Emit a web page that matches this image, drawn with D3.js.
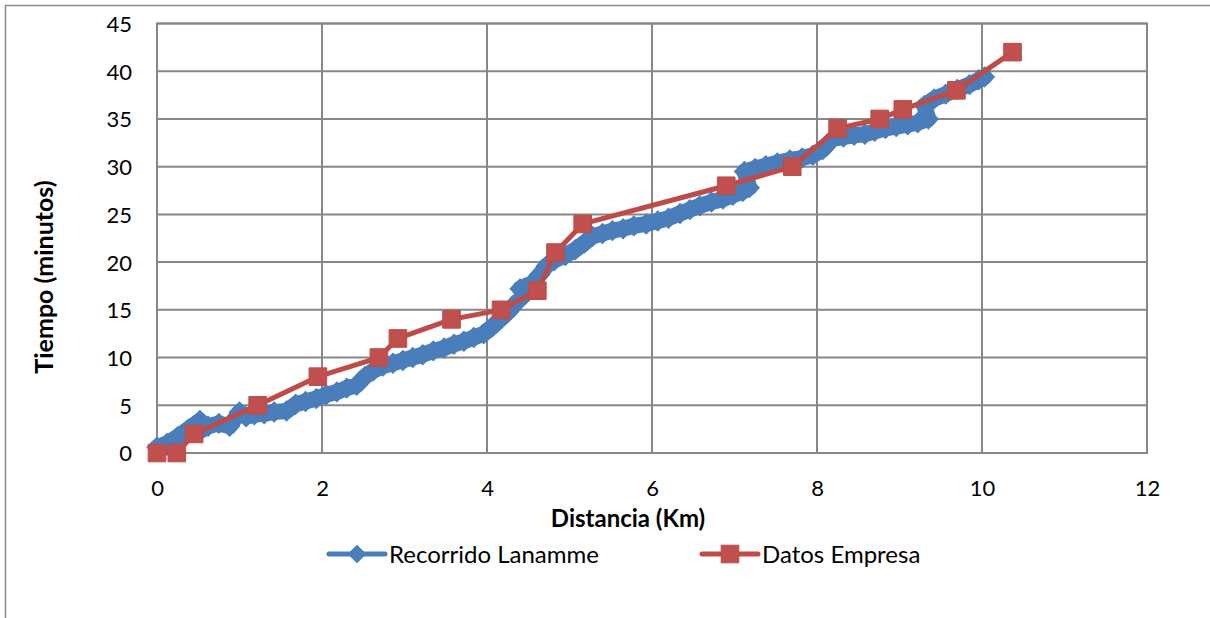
<!DOCTYPE html>
<html>
<head>
<meta charset="utf-8">
<script src="https://cdn.jsdelivr.net/npm/d3@7/dist/d3.min.js"></script>
<style>
  html, body { margin: 0; padding: 0; background: #fff; }
  svg { display: block; }
  text { font-family: Lato, "Open Sans", "Liberation Sans", sans-serif; fill: #000; }
</style>
</head>
<body>
<svg id="chart" width="1210" height="618"></svg>
<script>
// Recorrido Lanamme: distance (km) and elapsed time (min) along the measured route
const lanammeKm = [
  0.00, 0.12, 0.25, 0.38, 0.52, 0.50, 0.62, 0.75, 0.88, 1.00, 1.08, 1.18, 1.30, 1.42,
  1.57, 1.68, 1.80, 1.93, 2.05, 2.18, 2.30, 2.42, 2.52, 2.62, 2.74, 2.86, 2.98, 3.10,
  3.22, 3.35, 3.48, 3.60, 3.72, 3.84, 3.96, 4.06, 4.16, 4.26, 4.36, 4.48, 4.40, 4.55,
  4.64, 4.72, 4.82, 4.95, 5.07, 5.18, 5.28, 5.40, 5.52, 5.65, 5.78, 5.93, 6.07, 6.20,
  6.34, 6.46, 6.58, 6.72, 6.86, 6.98, 7.10, 7.18, 7.12, 7.25, 7.38, 7.52, 7.67, 7.82,
  7.95, 8.07, 8.19, 8.32, 8.45, 8.58, 8.70, 8.83, 8.96, 9.10, 9.22, 9.35, 9.30, 9.42,
  9.56, 9.70, 9.85, 9.96, 10.03
];
const lanammeMin = [
  0.6, 1.0, 1.7, 2.5, 3.4, 2.2, 2.8, 3.1, 2.8, 4.3, 3.8, 4.0, 4.1, 4.3,
  4.4, 5.1, 5.4, 5.7, 6.1, 6.4, 6.8, 7.1, 8.0, 8.6, 9.1, 9.4, 9.7, 10.0,
  10.3, 10.7, 11.0, 11.4, 11.7, 12.1, 12.5, 13.2, 14.0, 14.8, 15.8, 16.8, 17.2, 17.8,
  18.7, 19.6, 20.2, 20.7, 21.3, 22.0, 22.7, 23.0, 23.3, 23.5, 23.8, 24.0, 24.3, 24.6,
  25.1, 25.5, 25.9, 26.3, 26.6, 27.0, 27.4, 27.8, 29.5, 29.8, 30.1, 30.4, 30.7, 30.9,
  31.2, 31.8, 32.9, 33.1, 33.3, 33.4, 33.7, 34.0, 34.2, 34.4, 34.6, 35.0, 36.4, 37.1,
  37.6, 38.1, 38.6, 39.1, 39.4
];

// Datos Empresa: distance (km) and time (min) reported by the company
const empresaKm  = [0.00, 0.24, 0.45, 1.22, 1.95, 2.69, 2.92, 3.57, 4.17, 4.61, 4.83, 5.16, 6.90, 7.70, 8.25, 8.76, 9.04, 9.69, 10.37];
const empresaMin = [0, 0, 2, 5, 8, 10, 12, 14, 15, 17, 21, 24, 28, 30, 34, 35, 36, 38, 42];

// Axis ticks
const xTicks = [0, 2, 4, 6, 8, 10, 12];
const yTicks = [0, 5, 10, 15, 20, 25, 30, 35, 40, 45];

const seriesNames = ["Recorrido Lanamme", "Datos Empresa"];

const blueLine = "#4A7EBB", blueFill = "#4A7EBB";
const redLine = "#BE4B48", redFill = "#C0504D";
const gridColor = "#878787";

const svg = d3.select("#chart");

// outer chart frame
svg.append("path")
  .attr("d", "M5.5,640 L5.5,5.5 L1230,5.5")
  .attr("fill", "none").attr("stroke", "#8c8c8c").attr("stroke-width", 1.5);

const plot = { left: 157, right: 1147, top: 23.5, bottom: 453 };

const x = d3.scaleLinear().domain([0, 12]).range([plot.left, plot.right]);
const y = d3.scaleLinear().domain([0, 45]).range([plot.bottom, plot.top]);

// gridlines
const grid = svg.append("g");
grid.selectAll("line.h").data(yTicks).join("line")
  .attr("x1", plot.left).attr("x2", plot.right)
  .attr("y1", d => y(d)).attr("y2", d => y(d))
  .attr("stroke", gridColor).attr("stroke-width", 2);
grid.selectAll("line.v").data(xTicks).join("line")
  .attr("y1", plot.top).attr("y2", plot.bottom)
  .attr("x1", d => x(d)).attr("x2", d => x(d))
  .attr("stroke", gridColor).attr("stroke-width", 2);

// axes (labels only, no tick marks)
const xAxis = svg.append("g")
  .attr("transform", `translate(0,${plot.bottom})`)
  .call(d3.axisBottom(x).tickValues(xTicks).tickSize(0).tickPadding(43).tickFormat(d3.format("d")));
xAxis.select(".domain").remove();
xAxis.selectAll("text").style("font-size", "22px").attr("dy", "0");

const yAxis = svg.append("g")
  .attr("transform", `translate(${plot.left},0)`)
  .call(d3.axisLeft(y).tickValues(yTicks).tickSize(0).tickPadding(25).tickFormat(d3.format("d")));
yAxis.select(".domain").remove();
yAxis.selectAll("text").style("font-size", "22px").attr("dy", "0.36em");

// plot border
svg.append("rect")
  .attr("x", plot.left).attr("y", plot.top)
  .attr("width", plot.right - plot.left).attr("height", plot.bottom - plot.top)
  .attr("fill", "none").attr("stroke", gridColor).attr("stroke-width", 2);

// axis titles
svg.append("text")
  .attr("x", 628).attr("y", 527)
  .attr("text-anchor", "middle")
  .style("font-size", "24px").style("font-weight", "bold")
  .text("Distancia (Km)");

svg.append("text")
  .attr("transform", "translate(53,277) rotate(-90)")
  .attr("text-anchor", "middle")
  .style("font-size", "25px").style("font-weight", "bold")
  .text("Tiempo (minutos)");

const line = d3.line().x(d => x(d[0])).y(d => y(d[1]));
const lanamme = lanammeKm.map((k, i) => [k, lanammeMin[i]]);
const empresa = empresaKm.map((k, i) => [k, empresaMin[i]]);

const diamond = d3.symbol().type(d3.symbolSquare).size(200);
const legendDiamond = d3.symbol().type(d3.symbolSquare).size(150);
const square = d3.symbol().type(d3.symbolSquare).size(310);

// Recorrido Lanamme
svg.append("path").datum(lanamme)
  .attr("d", line).attr("fill", "none")
  .attr("stroke", blueLine).attr("stroke-width", 16)
  .attr("stroke-linejoin", "round").attr("stroke-linecap", "round");
svg.append("g").selectAll("path").data(lanamme).join("path")
  .attr("d", diamond)
  .attr("transform", d => `translate(${x(d[0])},${y(d[1])}) rotate(45)`)
  .attr("fill", blueFill).attr("stroke", blueLine).attr("stroke-width", 1);

// Datos Empresa
svg.append("path").datum(empresa)
  .attr("d", line).attr("fill", "none")
  .attr("stroke", redLine).attr("stroke-width", 5).attr("stroke-linejoin", "round");
svg.append("g").selectAll("path").data(empresa).join("path")
  .attr("d", square)
  .attr("transform", d => `translate(${x(d[0])},${y(d[1])})`)
  .attr("fill", redFill).attr("stroke", redLine).attr("stroke-width", 1);

// legend
const legend = svg.append("g");
const legendItems = [
  { name: seriesNames[0], x0: 329, x1: 385, stroke: blueLine, fill: blueFill, sym: legendDiamond, rot: 45, tx: 389 },
  { name: seriesNames[1], x0: 702, x1: 758, stroke: redLine, fill: redFill, sym: square, rot: 0, tx: 762 }
];
const ly = 554;
legendItems.forEach(it => {
  legend.append("line")
    .attr("x1", it.x0).attr("x2", it.x1).attr("y1", ly).attr("y2", ly)
    .attr("stroke", it.stroke).attr("stroke-width", 5).attr("stroke-linecap", "round");
  legend.append("path")
    .attr("d", it.sym)
    .attr("transform", `translate(${(it.x0 + it.x1) / 2},${ly}) rotate(${it.rot})`)
    .attr("fill", it.fill).attr("stroke", it.stroke).attr("stroke-width", 1);
  legend.append("text")
    .attr("x", it.tx).attr("y", ly).attr("dy", "0.36em")
    .style("font-size", "24px")
    .text(it.name);
});
</script>
</body>
</html>
